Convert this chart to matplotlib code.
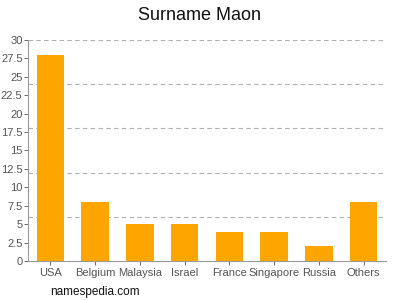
import matplotlib
matplotlib.use("Agg")
import matplotlib.pyplot as plt

countries = ["USA", "Belgium", "Malaysia", "Israel", "France", "Singapore", "Russia", "Others"]
counts = [28, 8, 5, 5, 4, 4, 2, 8]
yticks = [0, 2.5, 5, 7.5, 10, 12.5, 15, 17.5, 20, 22.5, 25, 27.5, 30]
gridlines = [6, 12, 18, 24, 30]

plt.rcParams.update({"font.family": ["Liberation Sans", "DejaVu Sans"]})
fig = plt.figure(figsize=(4, 3), dpi=100)
ax = fig.add_axes([0.07, 0.13, 0.895, 0.737])

x = list(range(len(counts)))
ax.bar(x, counts, width=0.62, color="#ffa500", zorder=3)

for g in gridlines:
    ax.axhline(g, color="#b0b0b0", linestyle=(0, (4, 3)), linewidth=0.8, zorder=1)

ax.set_xlim(-0.5, len(counts) - 0.5)
ax.set_ylim(0, 30)
ax.set_yticks(yticks)
ax.set_yticklabels([f"{t:g}" for t in yticks])
ax.set_xticks(x)
ax.set_xticklabels(countries)
ax.tick_params(axis="both", labelsize=8, colors="#555555", length=3, width=0.6, pad=2)
ax.tick_params(axis="y", pad=1)

for s in ["top", "right"]:
    ax.spines[s].set_visible(False)
for s in ["left", "bottom"]:
    ax.spines[s].set_color("#999999")
    ax.spines[s].set_linewidth(0.8)

fig.text(0.5, 0.95, "Surname Maon", ha="center", va="center", fontsize=13, color="#111111")
fig.text(0.125, 0.025, "namespedia.com", ha="left", va="center", fontsize=8.5, color="#111111")

fig.savefig("out.png", dpi=100, facecolor="white")
